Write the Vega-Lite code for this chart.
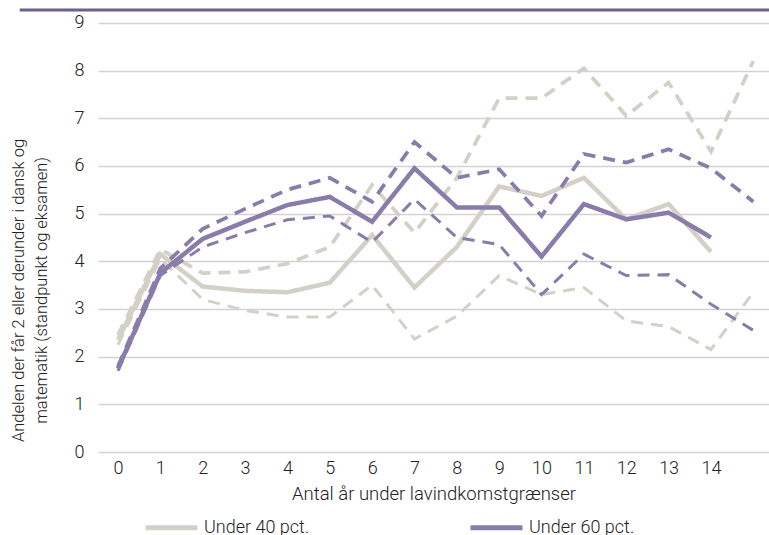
{
  "$schema": "https://vega.github.io/schema/vega-lite/v6.json",
  "width": 671,
  "height": 442,
  "autosize": {"type": "none"},
  "padding": {"left": 98, "top": 10, "right": 0, "bottom": 83},
  "config": {
    "font": "Roboto",
    "view": {"stroke": null},
    "axis": {"labelFont": "Roboto", "labelFontWeight": 300, "labelColor": "#222", "titleFont": "Roboto", "titleFontWeight": 300, "titleColor": "#222"},
    "legend": {"labelFont": "Roboto", "labelFontWeight": 300, "labelColor": "#222", "padding": 0}
  },
  "datasets": {
    "lines": [
      {"x": 0, "v": 2.35, "g": "Under 40 pct.", "s": "mid"},
      {"x": 1, "v": 4.15, "g": "Under 40 pct.", "s": "mid"},
      {"x": 2, "v": 3.47, "g": "Under 40 pct.", "s": "mid"},
      {"x": 3, "v": 3.38, "g": "Under 40 pct.", "s": "mid"},
      {"x": 4, "v": 3.35, "g": "Under 40 pct.", "s": "mid"},
      {"x": 5, "v": 3.55, "g": "Under 40 pct.", "s": "mid"},
      {"x": 6, "v": 4.55, "g": "Under 40 pct.", "s": "mid"},
      {"x": 7, "v": 3.45, "g": "Under 40 pct.", "s": "mid"},
      {"x": 8, "v": 4.3, "g": "Under 40 pct.", "s": "mid"},
      {"x": 9, "v": 5.57, "g": "Under 40 pct.", "s": "mid"},
      {"x": 10, "v": 5.37, "g": "Under 40 pct.", "s": "mid"},
      {"x": 11, "v": 5.75, "g": "Under 40 pct.", "s": "mid"},
      {"x": 12, "v": 4.88, "g": "Under 40 pct.", "s": "mid"},
      {"x": 13, "v": 5.2, "g": "Under 40 pct.", "s": "mid"},
      {"x": 14, "v": 4.2, "g": "Under 40 pct.", "s": "mid"},

      {"x": 0, "v": 2.45, "g": "Under 40 pct.", "s": "hi"},
      {"x": 1, "v": 4.25, "g": "Under 40 pct.", "s": "hi"},
      {"x": 2, "v": 3.75, "g": "Under 40 pct.", "s": "hi"},
      {"x": 3, "v": 3.78, "g": "Under 40 pct.", "s": "hi"},
      {"x": 4, "v": 3.95, "g": "Under 40 pct.", "s": "hi"},
      {"x": 5, "v": 4.3, "g": "Under 40 pct.", "s": "hi"},
      {"x": 6, "v": 5.6, "g": "Under 40 pct.", "s": "hi"},
      {"x": 7, "v": 4.6, "g": "Under 40 pct.", "s": "hi"},
      {"x": 8, "v": 5.75, "g": "Under 40 pct.", "s": "hi"},
      {"x": 9, "v": 7.42, "g": "Under 40 pct.", "s": "hi"},
      {"x": 10, "v": 7.42, "g": "Under 40 pct.", "s": "hi"},
      {"x": 11, "v": 8.05, "g": "Under 40 pct.", "s": "hi"},
      {"x": 12, "v": 7.05, "g": "Under 40 pct.", "s": "hi"},
      {"x": 13, "v": 7.75, "g": "Under 40 pct.", "s": "hi"},
      {"x": 14, "v": 6.3, "g": "Under 40 pct.", "s": "hi"},
      {"x": 15, "v": 8.2, "g": "Under 40 pct.", "s": "hi"},

      {"x": 0, "v": 2.25, "g": "Under 40 pct.", "s": "lo"},
      {"x": 1, "v": 4.05, "g": "Under 40 pct.", "s": "lo"},
      {"x": 2, "v": 3.2, "g": "Under 40 pct.", "s": "lo"},
      {"x": 3, "v": 2.97, "g": "Under 40 pct.", "s": "lo"},
      {"x": 4, "v": 2.83, "g": "Under 40 pct.", "s": "lo"},
      {"x": 5, "v": 2.83, "g": "Under 40 pct.", "s": "lo"},
      {"x": 6, "v": 3.5, "g": "Under 40 pct.", "s": "lo"},
      {"x": 7, "v": 2.37, "g": "Under 40 pct.", "s": "lo"},
      {"x": 8, "v": 2.85, "g": "Under 40 pct.", "s": "lo"},
      {"x": 9, "v": 3.7, "g": "Under 40 pct.", "s": "lo"},
      {"x": 10, "v": 3.3, "g": "Under 40 pct.", "s": "lo"},
      {"x": 11, "v": 3.45, "g": "Under 40 pct.", "s": "lo"},
      {"x": 12, "v": 2.75, "g": "Under 40 pct.", "s": "lo"},
      {"x": 13, "v": 2.63, "g": "Under 40 pct.", "s": "lo"},
      {"x": 14, "v": 2.15, "g": "Under 40 pct.", "s": "lo"},
      {"x": 15, "v": 3.35, "g": "Under 40 pct.", "s": "lo"},

      {"x": 0, "v": 1.75, "g": "Under 60 pct.", "s": "mid"},
      {"x": 1, "v": 3.75, "g": "Under 60 pct.", "s": "mid"},
      {"x": 2, "v": 4.47, "g": "Under 60 pct.", "s": "mid"},
      {"x": 3, "v": 4.83, "g": "Under 60 pct.", "s": "mid"},
      {"x": 4, "v": 5.18, "g": "Under 60 pct.", "s": "mid"},
      {"x": 5, "v": 5.35, "g": "Under 60 pct.", "s": "mid"},
      {"x": 6, "v": 4.83, "g": "Under 60 pct.", "s": "mid"},
      {"x": 7, "v": 5.95, "g": "Under 60 pct.", "s": "mid"},
      {"x": 8, "v": 5.13, "g": "Under 60 pct.", "s": "mid"},
      {"x": 9, "v": 5.13, "g": "Under 60 pct.", "s": "mid"},
      {"x": 10, "v": 4.1, "g": "Under 60 pct.", "s": "mid"},
      {"x": 11, "v": 5.2, "g": "Under 60 pct.", "s": "mid"},
      {"x": 12, "v": 4.88, "g": "Under 60 pct.", "s": "mid"},
      {"x": 13, "v": 5.02, "g": "Under 60 pct.", "s": "mid"},
      {"x": 14, "v": 4.5, "g": "Under 60 pct.", "s": "mid"},

      {"x": 0, "v": 1.8, "g": "Under 60 pct.", "s": "hi"},
      {"x": 1, "v": 3.85, "g": "Under 60 pct.", "s": "hi"},
      {"x": 2, "v": 4.68, "g": "Under 60 pct.", "s": "hi"},
      {"x": 3, "v": 5.1, "g": "Under 60 pct.", "s": "hi"},
      {"x": 4, "v": 5.5, "g": "Under 60 pct.", "s": "hi"},
      {"x": 5, "v": 5.75, "g": "Under 60 pct.", "s": "hi"},
      {"x": 6, "v": 5.25, "g": "Under 60 pct.", "s": "hi"},
      {"x": 7, "v": 6.5, "g": "Under 60 pct.", "s": "hi"},
      {"x": 8, "v": 5.75, "g": "Under 60 pct.", "s": "hi"},
      {"x": 9, "v": 5.93, "g": "Under 60 pct.", "s": "hi"},
      {"x": 10, "v": 4.95, "g": "Under 60 pct.", "s": "hi"},
      {"x": 11, "v": 6.25, "g": "Under 60 pct.", "s": "hi"},
      {"x": 12, "v": 6.07, "g": "Under 60 pct.", "s": "hi"},
      {"x": 13, "v": 6.35, "g": "Under 60 pct.", "s": "hi"},
      {"x": 14, "v": 5.95, "g": "Under 60 pct.", "s": "hi"},
      {"x": 15, "v": 5.25, "g": "Under 60 pct.", "s": "hi"},

      {"x": 0, "v": 1.7, "g": "Under 60 pct.", "s": "lo"},
      {"x": 1, "v": 3.7, "g": "Under 60 pct.", "s": "lo"},
      {"x": 2, "v": 4.3, "g": "Under 60 pct.", "s": "lo"},
      {"x": 3, "v": 4.6, "g": "Under 60 pct.", "s": "lo"},
      {"x": 4, "v": 4.87, "g": "Under 60 pct.", "s": "lo"},
      {"x": 5, "v": 4.95, "g": "Under 60 pct.", "s": "lo"},
      {"x": 6, "v": 4.4, "g": "Under 60 pct.", "s": "lo"},
      {"x": 7, "v": 5.3, "g": "Under 60 pct.", "s": "lo"},
      {"x": 8, "v": 4.5, "g": "Under 60 pct.", "s": "lo"},
      {"x": 9, "v": 4.35, "g": "Under 60 pct.", "s": "lo"},
      {"x": 10, "v": 3.3, "g": "Under 60 pct.", "s": "lo"},
      {"x": 11, "v": 4.15, "g": "Under 60 pct.", "s": "lo"},
      {"x": 12, "v": 3.7, "g": "Under 60 pct.", "s": "lo"},
      {"x": 13, "v": 3.72, "g": "Under 60 pct.", "s": "lo"},
      {"x": 14, "v": 3.1, "g": "Under 60 pct.", "s": "lo"},
      {"x": 15, "v": 2.55, "g": "Under 60 pct.", "s": "lo"}
    ],
    "border": [{"x1": -2.32, "x2": 15.37, "y": 9.27}]
  },
  "layer": [
    {
      "data": {"name": "lines"},
      "mark": {"type": "line", "strokeCap": "butt", "strokeJoin": "miter", "clip": false},
      "encoding": {
        "x": {
          "field": "x", "type": "quantitative",
          "scale": {"domain": [-0.472, 15.37], "nice": false, "zero": false},
          "axis": {
            "values": [0, 1, 2, 3, 4, 5, 6, 7, 8, 9, 10, 11, 12, 13, 14],
            "title": "Antal år under lavindkomstgrænser",
            "grid": false, "domain": false, "ticks": false,
            "labelFontSize": 18, "labelPadding": 7,
            "titleFontSize": 18.5, "titlePadding": 7
          }
        },
        "y": {
          "field": "v", "type": "quantitative",
          "scale": {"domain": [0, 9.27], "nice": false},
          "axis": {
            "values": [0, 1, 2, 3, 4, 5, 6, 7, 8, 9],
            "title": ["Andelen der får 2 eller derunder i dansk og", "matematik (standpunkt og eksamen)"],
            "grid": true, "gridColor": "#d2d2d2", "gridWidth": 1.5,
            "domain": false, "ticks": false,
            "labelFontSize": 18, "labelPadding": 14,
            "titleFontSize": 16.5, "titleLineHeight": 23,
            "titleX": -88, "titleY": 280, "titleAngle": -90, "titleBaseline": "top", "titleAlign": "center"
          }
        },
        "color": {
          "field": "g", "type": "nominal",
          "scale": {"domain": ["Under 40 pct.", "Under 60 pct."], "range": ["#d3d0c7", "#8a7caa"]},
          "legend": {
            "title": null, "orient": "none", "direction": "horizontal",
            "legendX": 45, "legendY": 489,
            "symbolType": "stroke", "symbolSize": 2700, "symbolStrokeWidth": 5,
            "labelFontSize": 18, "labelOffset": 4, "columnPadding": 150
          }
        },
        "strokeDash": {
          "field": "s", "type": "nominal",
          "scale": {"domain": ["mid", "hi", "lo"], "range": [[1, 0], [12, 8], [12, 8]]},
          "legend": null
        },
        "strokeWidth": {
          "field": "s", "type": "nominal",
          "scale": {"domain": ["mid", "hi", "lo"], "range": [4.5, 3, 3]},
          "legend": null
        },
        "detail": {"field": "s"}
      }
    },
    {
      "data": {"name": "border"},
      "mark": {"type": "rule", "color": "#6e5e8c", "strokeWidth": 3, "clip": false},
      "encoding": {
        "x": {"field": "x1", "type": "quantitative"},
        "x2": {"field": "x2"},
        "y": {"field": "y", "type": "quantitative"}
      }
    }
  ]
}
